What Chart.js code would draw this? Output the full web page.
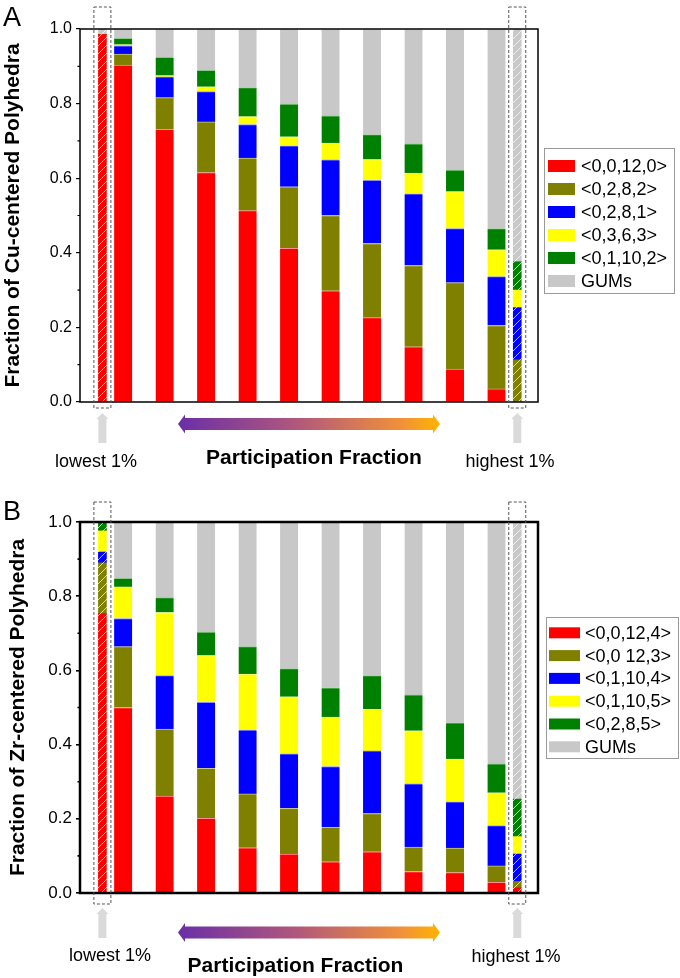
<!DOCTYPE html>
<html>
<head>
<meta charset="utf-8">
<script src="https://cdn.jsdelivr.net/npm/chart.js@4/dist/chart.umd.min.js"></script>
<style>
  html, body { margin: 0; padding: 0; background: #fff; }
  #wrap { position: relative; width: 680px; height: 978px; }
  canvas { position: absolute; left: 0; }
  #chartA { top: 0; }
  #chartB { top: 490px; }
</style>
</head>
<body>
<div id="wrap">
  <canvas id="chartA" width="680" height="490"></canvas>
  <canvas id="chartB" width="680" height="488"></canvas>
</div>
<script>
const FONT = 'Arial, "Liberation Sans", sans-serif';

// bins along participation fraction: lowest 1%, ten bins, highest 1%
const binLabels = ['lowest 1%', 'bin 1', 'bin 2', 'bin 3', 'bin 4', 'bin 5', 'bin 6', 'bin 7', 'bin 8', 'bin 9', 'bin 10', 'highest 1%'];
const binX = [0.5, 1, 2, 3, 4, 5, 6, 7, 8, 9, 10, 10.5];

const seriesColors = ['#ff0000', '#808000', '#0000ff', '#ffff00', '#008000', '#c8c8c8'];

// Panel A - Cu-centered polyhedra
const cuNames = ['<0,0,12,0>', '<0,2,8,2>', '<0,2,8,1>', '<0,3,6,3>', '<0,1,10,2>', 'GUMs'];
const cu_0_0_12_0 = [0.985, 0.903, 0.731, 0.615, 0.513, 0.412, 0.298, 0.226, 0.148, 0.088, 0.035, 0.000];
const cu_0_2_8_2  = [0.000, 0.030, 0.085, 0.136, 0.141, 0.165, 0.202, 0.199, 0.218, 0.232, 0.170, 0.113];
const cu_0_2_8_1  = [0.000, 0.022, 0.056, 0.081, 0.090, 0.110, 0.149, 0.169, 0.192, 0.145, 0.131, 0.140];
const cu_0_3_6_3  = [0.000, 0.003, 0.003, 0.013, 0.021, 0.024, 0.045, 0.056, 0.056, 0.099, 0.072, 0.047];
const cu_0_1_10_2 = [0.000, 0.017, 0.049, 0.044, 0.078, 0.088, 0.073, 0.067, 0.078, 0.058, 0.057, 0.076];
const cu_GUMs     = [0.015, 0.025, 0.076, 0.111, 0.157, 0.201, 0.233, 0.283, 0.308, 0.378, 0.535, 0.624];

// Panel B - Zr-centered polyhedra
const zrNames = ['<0,0,12,4>', '<0,0 12,3>', '<0,1,10,4>', '<0,1,10,5>', '<0,2,8,5>', 'GUMs'];
const zr_0_0_12_4 = [0.753, 0.500, 0.261, 0.201, 0.122, 0.105, 0.084, 0.111, 0.058, 0.055, 0.029, 0.014];
const zr_0_0_12_3 = [0.137, 0.164, 0.181, 0.135, 0.145, 0.123, 0.093, 0.103, 0.066, 0.066, 0.044, 0.017];
const zr_0_1_10_4 = [0.029, 0.076, 0.144, 0.178, 0.172, 0.147, 0.164, 0.169, 0.170, 0.125, 0.109, 0.074];
const zr_0_1_10_5 = [0.057, 0.085, 0.170, 0.126, 0.151, 0.154, 0.133, 0.112, 0.143, 0.115, 0.088, 0.047];
const zr_0_2_8_5  = [0.024, 0.023, 0.040, 0.063, 0.074, 0.076, 0.079, 0.091, 0.097, 0.098, 0.078, 0.101];
const zr_GUMs     = [0.000, 0.152, 0.204, 0.297, 0.336, 0.395, 0.447, 0.414, 0.466, 0.541, 0.652, 0.747];

const yTicks = ['0.0', '0.2', '0.4', '0.6', '0.8', '1.0'];

function tint(hex, f) {
  const n = parseInt(hex.slice(1), 16);
  const m = c => Math.round(c + (255 - c) * f);
  return `rgb(${m(n >> 16)},${m((n >> 8) & 255)},${m(n & 255)})`;
}

// diagonal white hatch for the 1% bars
function hatch(color) {
  const c = document.createElement('canvas');
  c.width = 8; c.height = 8;
  const g = c.getContext('2d');
  g.fillStyle = color;
  g.fillRect(0, 0, 8, 8);
  g.strokeStyle = 'rgba(255,255,255,0.7)';
  g.lineWidth = 1;
  g.beginPath();
  g.moveTo(0, 8); g.lineTo(8, 0);
  g.moveTo(-1, 1); g.lineTo(1, -1);
  g.moveTo(7, 9); g.lineTo(9, 7);
  g.stroke();
  return g.createPattern(c, 'repeat');
}

function buildDatasets(names, values) {
  const sets = [];
  const last = binX.length - 1;
  names.forEach((name, s) => {
    const col = seriesColors[s];
    sets.push({
      label: name,
      data: binX.map((x, i) => ({ x, y: values[s][i] })).filter((p, i) => i > 0 && i < last),
      backgroundColor: col,
      borderColor: tint(col, 0.55),
      borderWidth: { top: 1, right: 0, bottom: 0, left: 0 },
      barThickness: 18
    });
    sets.push({
      label: name,
      hatched: true,
      data: [0, last].map(i => ({ x: binX[i], y: values[s][i] })),
      backgroundColor: hatch(col),
      borderWidth: 0,
      barThickness: 8
    });
  });
  return sets;
}

function upArrow(ctx, cx, y1, y2) {
  ctx.fillStyle = '#dadada';
  ctx.beginPath();
  ctx.moveTo(cx, y1);
  ctx.lineTo(cx + 6, y1 + 6);
  ctx.lineTo(cx + 4, y1 + 6);
  ctx.lineTo(cx + 4, y2);
  ctx.lineTo(cx - 4, y2);
  ctx.lineTo(cx - 4, y1 + 6);
  ctx.lineTo(cx - 6, y1 + 6);
  ctx.closePath();
  ctx.fill();
}

function gradArrow(ctx, x1, x2, cy) {
  const sh = 6, hh = 9.5, hl = 7;
  const g = ctx.createLinearGradient(x1, 0, x2, 0);
  g.addColorStop(0, '#6a2fa8');
  g.addColorStop(0.45, '#b0577c');
  g.addColorStop(0.85, '#f0903a');
  g.addColorStop(1, '#ffb400');
  ctx.fillStyle = g;
  ctx.beginPath();
  ctx.moveTo(x1, cy);
  ctx.lineTo(x1 + hl, cy - hh);
  ctx.lineTo(x1 + hl, cy - sh);
  ctx.lineTo(x2 - hl, cy - sh);
  ctx.lineTo(x2 - hl, cy - hh);
  ctx.lineTo(x2, cy);
  ctx.lineTo(x2 - hl, cy + hh);
  ctx.lineTo(x2 - hl, cy + sh);
  ctx.lineTo(x1 + hl, cy + sh);
  ctx.lineTo(x1 + hl, cy + hh);
  ctx.closePath();
  ctx.fill();
}

// frame, minor ticks, annotations and legend
const decor = {
  id: 'decor',
  afterDatasetsDraw(chart, args, o) {
    const { ctx, chartArea: ca } = chart;
    const y = chart.scales.y;
    ctx.save();
    ctx.strokeStyle = '#000';
    ctx.lineWidth = o.frame;
    ctx.strokeRect(ca.left, ca.top, ca.right - ca.left, ca.bottom - ca.top);
    // minor ticks
    ctx.lineWidth = o.tickW;
    ctx.beginPath();
    for (let i = 0; i < y.ticks.length - 1; i++) {
      const py = y.getPixelForValue((y.ticks[i].value + y.ticks[i + 1].value) / 2);
      ctx.moveTo(ca.left - 2.5, py);
      ctx.lineTo(ca.left, py);
    }
    ctx.stroke();
    ctx.restore();
  },
  afterDraw(chart, args, o) {
    const { ctx, chartArea: ca } = chart;
    const x = chart.scales.x;
    const last = binX.length - 1;
    ctx.save();

    // dashed boxes and arrows around the 1% bars
    [0, last].forEach(i => {
      const px = x.getPixelForValue(binX[i]);
      ctx.setLineDash([3, 2]);
      ctx.strokeStyle = '#555';
      ctx.lineWidth = 1;
      ctx.strokeRect(px - 8.5, ca.top - o.boxTop, 17, ca.bottom - ca.top + o.boxTop + o.boxBottom);
      ctx.setLineDash([]);
      upArrow(ctx, px, ca.bottom + o.upArrow[0], ca.bottom + o.upArrow[1]);
    });
    gradArrow(ctx, 178, 440, ca.bottom + o.gradY);

    ctx.fillStyle = '#000';
    ctx.textAlign = 'center';
    ctx.textBaseline = 'alphabetic';
    ctx.font = '18px ' + FONT;
    ctx.fillText(binLabels[0], o.lowX, o.lowY);
    ctx.fillText(binLabels[last], o.highX, o.highY);
    ctx.font = 'bold 21px ' + FONT;
    ctx.fillText('Participation Fraction', o.partX, o.partY);

    // y title
    ctx.save();
    ctx.translate(o.titleX, (ca.top + ca.bottom) / 2);
    ctx.rotate(-Math.PI / 2);
    ctx.fillText(o.title, 0, 0);
    ctx.restore();

    // panel letter
    ctx.textAlign = 'left';
    ctx.font = '27px ' + FONT;
    ctx.fillText(o.letter, 3, o.letterY);

    // legend
    const L = o.legend;
    ctx.strokeStyle = '#9a9a9a';
    ctx.lineWidth = 1;
    ctx.strokeRect(L.x + 0.5, L.y + 0.5, L.w, L.h);
    ctx.font = '18px ' + FONT;
    ctx.textBaseline = 'middle';
    chart.data.datasets.filter(d => !d.hatched).forEach((d, k) => {
      const cy = L.row0 + k * L.step;
      ctx.fillStyle = d.backgroundColor;
      ctx.fillRect(L.sx, cy - L.sh / 2, L.sw, L.sh);
      ctx.fillStyle = '#000';
      ctx.fillText(d.label, L.tx, cy + 1);
    });
    ctx.restore();
  }
};

function makeChart(id, names, values, top, bottom, tickSize, deco) {
  const canvas = document.getElementById(id);
  return new Chart(canvas, {
    type: 'bar',
    data: { datasets: buildDatasets(names, values) },
    options: {
      responsive: false,
      animation: false,
      devicePixelRatio: 1,
      layout: { padding: { top: top, bottom: canvas.height - bottom, left: 0, right: 680 - 538 } },
      scales: {
        x: { type: 'linear', min: -0.04, max: 11, offset: false, stacked: true, display: false },
        y: {
          stacked: true,
          min: 0,
          max: 1,
          afterFit: axis => { axis.width = 80; },
          ticks: {
            stepSize: 0.2,
            padding: 4,
            color: '#000',
            font: { family: FONT, size: tickSize },
            callback: v => yTicks[Math.round(v * 5)]
          },
          grid: { drawOnChartArea: false, tickLength: 4, color: '#000', lineWidth: deco.tickW },
          border: { display: false }
        }
      },
      plugins: { legend: { display: false }, tooltip: { enabled: false }, decor: deco }
    },
    plugins: [decor]
  });
}

makeChart('chartA', cuNames,
  [cu_0_0_12_0, cu_0_2_8_2, cu_0_2_8_1, cu_0_3_6_3, cu_0_1_10_2, cu_GUMs],
  29, 402, 16, {
    frame: 1.5, tickW: 1.2,
    boxTop: 22, boxBottom: 6, upArrow: [11, 41], gradY: 22,
    lowX: 96, lowY: 467, highX: 510, highY: 467, partX: 314, partY: 464,
    title: 'Fraction of Cu-centered Polyhedra', titleX: 18.5,
    letter: 'A', letterY: 26,
    legend: { x: 544, y: 148, w: 130, h: 145, sx: 548, sw: 27, sh: 12, tx: 581, row0: 166, step: 23 }
  });

makeChart('chartB', zrNames,
  [zr_0_0_12_4, zr_0_0_12_3, zr_0_1_10_4, zr_0_1_10_5, zr_0_2_8_5, zr_GUMs],
  32, 403, 17, {
    frame: 2.5, tickW: 1.6,
    boxTop: 20, boxBottom: 11, upArrow: [15, 45], gradY: 39.5,
    lowX: 110, lowY: 471, highX: 516, highY: 472, partX: 295.5, partY: 482,
    title: 'Fraction of Zr-centered Polyhedra', titleX: 23.5,
    letter: 'B', letterY: 29.5,
    legend: { x: 546, y: 127, w: 132, h: 141, sx: 549, sw: 31, sh: 11, tx: 585, row0: 142.8, step: 22.8 }
  });
</script>
</body>
</html>
